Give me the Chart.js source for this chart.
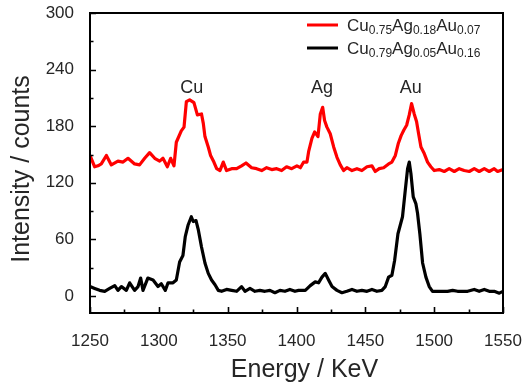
<!DOCTYPE html>
<html>
<head>
<meta charset="utf-8">
<title>EDX spectra</title>
<script src="https://cdn.jsdelivr.net/npm/chart.js@4/dist/chart.umd.min.js"></script>
<style>
    html, body { margin: 0; padding: 0; background: #fff; }
    #wrap { width: 522px; height: 384px; }
</style>
</head>
<body>
<div id="wrap"><canvas id="spectrum" width="522" height="384"></canvas></div>
<script>
// Spectra (energy in keV, intensity in counts)
const redEnergy = [1250, 1253.4, 1255.8, 1258.2, 1261.9, 1265.5, 1270.3, 1274, 1277.6, 1282.4, 1286, 1289.7, 1293.3, 1297, 1300.6, 1303, 1306.2, 1308.6, 1311, 1312.7, 1316.3, 1318.3, 1320, 1322.4, 1325.5, 1328, 1331, 1332.3, 1333.5, 1335.9, 1337.6, 1340, 1342, 1344.4, 1346.8, 1349.2, 1352.9, 1356.5, 1360.1, 1363.3, 1367.4, 1371, 1374.7, 1378.3, 1382, 1385.6, 1389.2, 1392.8, 1396.5, 1400.3, 1402.8, 1405.2, 1407.6, 1408.8, 1411.2, 1413.2, 1415.6, 1417.3, 1419, 1420.4, 1422.1, 1424.5, 1427, 1429.4, 1431.8, 1434.2, 1436.6, 1440.3, 1443.9, 1447.5, 1451.2, 1454.8, 1457.2, 1460.1, 1463.3, 1466.9, 1469.3, 1471.8, 1474, 1476, 1478, 1480, 1481.9, 1483.6, 1485.5, 1487.2, 1488.7, 1490.4, 1492.8, 1495.2, 1497.6, 1500, 1503.7, 1507.3, 1510.9, 1514.6, 1518.2, 1521.8, 1525.5, 1529.1, 1532.7, 1536.4, 1540, 1543.6, 1546.1, 1550];
const redCounts = [149, 137, 138, 140, 149, 139, 143, 142, 146, 140, 139, 146, 152, 146, 143, 146, 137, 146, 138, 163, 175, 179, 206, 208, 205, 192, 193, 183, 169, 158, 149, 142, 135, 133, 142, 133, 135, 135, 138, 141, 136, 135, 133, 136, 134, 135, 133, 137, 135, 138, 136, 142, 142, 153, 167, 174, 169, 193, 200, 186, 179, 172, 158, 147, 139, 133, 136, 133, 135, 133, 137, 138, 132, 135, 136, 140, 142, 149, 162, 170, 176, 181, 192, 204, 193, 185, 172, 158, 151, 142, 137, 133, 134, 132, 135, 132, 135, 133, 132, 135, 132, 135, 132, 135, 132, 134];

const blackEnergy = [1250, 1253.4, 1257, 1260.7, 1264.3, 1268, 1270.3, 1272.8, 1276.4, 1278.8, 1282.4, 1284.9, 1286.8, 1288.5, 1292, 1295.8, 1299.4, 1301.8, 1304.7, 1306.7, 1310.3, 1312.7, 1315.1, 1317.5, 1319.2, 1321.2, 1323.6, 1325, 1327, 1328.7, 1331, 1333.5, 1335.9, 1338.3, 1340.8, 1343.2, 1345.6, 1349.2, 1352.9, 1356.5, 1360.1, 1362.6, 1366.2, 1369.8, 1373.4, 1377.1, 1380.7, 1384.3, 1388, 1391.6, 1395.2, 1398.9, 1401.5, 1406.4, 1410, 1413.6, 1416, 1418.5, 1420.9, 1423.3, 1425.8, 1429.4, 1433, 1436.6, 1440.3, 1443.9, 1447.5, 1451.2, 1454.8, 1458.4, 1462, 1464.5, 1466.9, 1469.3, 1471.3, 1473.7, 1477, 1479, 1480.7, 1481.9, 1483.1, 1484.8, 1486.7, 1487.9, 1489.6, 1491.6, 1494, 1496.4, 1498.8, 1502.5, 1506.1, 1509.7, 1513.4, 1517, 1520.6, 1524.3, 1529.1, 1532.7, 1536.4, 1540, 1543.6, 1547.3, 1550];
const blackCounts = [10, 8, 6, 5, 8, 11, 6, 10, 6, 14, 6, 10, 19, 6, 19, 17, 10, 13, 6, 14, 14, 17, 36, 43, 63, 75, 84, 79, 80, 70, 52, 35, 24, 17, 12, 6, 5, 7, 6, 5, 10, 5, 8, 5, 6, 5, 6, 3.5, 6, 5, 7, 5, 6, 6, 11, 15, 14, 20, 24, 17, 10, 6, 3.5, 5, 7, 5, 6, 5, 7, 5, 6, 10, 20, 22, 38, 66, 84, 112, 135, 142, 130, 105, 98, 88, 66, 35, 20, 10, 5, 5, 5, 5, 6, 5, 5, 5, 7, 5, 7, 5, 5, 3, 5];

const seriesLabels = ['Cu0.75Ag0.18Au0.07', 'Cu0.79Ag0.05Au0.16'];
const seriesColors = ['#ff0000', '#000000'];

// Peak annotations
const peakNames = ['Cu', 'Ag', 'Au'];
const peakEnergy = [1324, 1418.5, 1483];
const peakLabelY = [220, 220, 220];

const xTicks = [1250, 1300, 1350, 1400, 1450, 1500, 1550];
const yTicks = [0, 60, 120, 180, 240, 300];

const FONT = "'Liberation Sans', Arial, Helvetica, sans-serif";
const TEXT = '#262626';

function toPoints(xs, ys) {
    return xs.map((x, i) => ({ x: x, y: ys[i] }));
}

// Frame, inward ticks, peak names, legend with subscripts, axis titles
const decorations = {
    id: 'decorations',
    afterDatasetsDraw(chart) {
        const { ctx, chartArea: a, scales } = chart;
        const xs = scales.x, ys = scales.y;
        ctx.save();

        // frame
        ctx.strokeStyle = '#000';
        ctx.lineWidth = 2;
        ctx.strokeRect(a.left, a.top, a.right - a.left, a.bottom - a.top);

        // x ticks (major every 50, minor every 25)
        ctx.lineWidth = 1.6;
        ctx.beginPath();
        for (let v = 1250; v <= 1550; v += 25) {
            const px = Math.round(xs.getPixelForValue(v)) + 0.5;
            const len = (v % 50 === 0) ? 6 : 3.5;
            ctx.moveTo(px, a.bottom);
            ctx.lineTo(px, a.bottom - len);
        }
        // y ticks (major every 60, minor every 30)
        for (let v = 0; v <= 300; v += 30) {
            const py = Math.round(ys.getPixelForValue(v)) + 0.5;
            const len = (v % 60 === 0) ? 6 : 3.5;
            ctx.moveTo(a.left, py);
            ctx.lineTo(a.left + len, py);
        }
        ctx.stroke();

        // peak names
        ctx.fillStyle = TEXT;
        ctx.font = '18px ' + FONT;
        ctx.textAlign = 'center';
        ctx.textBaseline = 'middle';
        peakNames.forEach((name, i) => {
            ctx.fillText(name, xs.getPixelForValue(peakEnergy[i]), ys.getPixelForValue(peakLabelY[i]));
        });

        // legend
        const lx = a.right - 196;
        chart.data.datasets.forEach((ds, i) => {
            const cy = a.top + 12 + i * 23;
            ctx.strokeStyle = ds.borderColor;
            ctx.lineWidth = 3;
            ctx.beginPath();
            ctx.moveTo(lx, cy);
            ctx.lineTo(lx + 31, cy);
            ctx.stroke();

            ctx.fillStyle = TEXT;
            ctx.textAlign = 'left';
            ctx.textBaseline = 'alphabetic';
            let tx = lx + 40;
            const base = cy + 6;
            const parts = ds.label.match(/[A-Za-z]+|[\d.]+/g);
            parts.forEach(p => {
                const sub = /^[\d.]/.test(p);
                ctx.font = (sub ? '12px ' : '17px ') + FONT;
                ctx.fillText(p, tx, sub ? base + 3 : base);
                tx += ctx.measureText(p).width;
            });
        });

        // axis titles
        ctx.fillStyle = TEXT;
        ctx.font = '25px ' + FONT;
        ctx.textAlign = 'center';
        ctx.textBaseline = 'middle';
        ctx.fillText('Energy / KeV', (a.left + a.right) / 2 + 8, 370);
        ctx.save();
        ctx.translate(22, 169);
        ctx.rotate(-Math.PI / 2);
        ctx.fillText('Intensity / counts', 0, 0);
        ctx.restore();

        ctx.restore();
    }
};

const ctx = document.getElementById('spectrum').getContext('2d');
new Chart(ctx, {
    type: 'line',
    data: {
        datasets: [
            {
                label: seriesLabels[0],
                data: toPoints(redEnergy, redCounts),
                borderColor: seriesColors[0],
                borderWidth: 3.2,
                borderJoinStyle: 'round',
                pointRadius: 0,
                tension: 0,
                fill: false
            },
            {
                label: seriesLabels[1],
                data: toPoints(blackEnergy, blackCounts),
                borderColor: seriesColors[1],
                borderWidth: 3.2,
                borderJoinStyle: 'round',
                pointRadius: 0,
                tension: 0,
                fill: false
            }
        ]
    },
    options: {
        responsive: false,
        animation: false,
        layout: { padding: { top: 13, right: 19, left: 0, bottom: 0 } },
        plugins: {
            legend: { display: false },
            tooltip: { enabled: false }
        },
        scales: {
            x: {
                type: 'linear',
                min: 1250,
                max: 1550,
                afterBuildTicks: s => { s.ticks = xTicks.map(v => ({ value: v })); },
                afterFit: s => { s.height = 71; s.paddingLeft = 0; s.paddingRight = 0; },
                grid: { display: false },
                border: { display: false },
                ticks: {
                    color: TEXT,
                    font: { family: FONT, size: 17 },
                    padding: 10,
                    maxRotation: 0,
                    autoSkip: false,
                    callback: v => String(v)
                }
            },
            y: {
                min: -18,
                max: 300,
                afterBuildTicks: s => { s.ticks = yTicks.map(v => ({ value: v })); },
                afterFit: s => { s.width = 90; s.paddingTop = 0; s.paddingBottom = 0; },
                grid: { display: false },
                border: { display: false },
                ticks: {
                    color: TEXT,
                    font: { family: FONT, size: 17 },
                    padding: 8,
                    callback: v => String(v)
                }
            }
        }
    },
    plugins: [decorations]
});
</script>
</body>
</html>
